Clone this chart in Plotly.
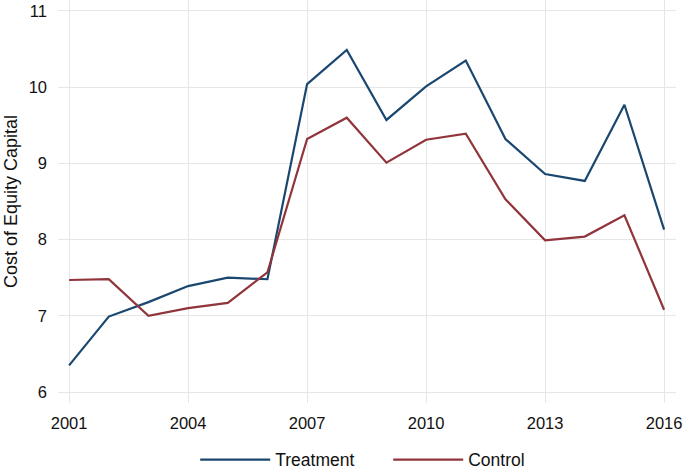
import plotly.graph_objects as go

years = list(range(2001, 2017))
treatment = [6.35, 6.99, 7.18, 7.39, 7.50, 7.48, 10.04, 10.49, 9.57, 10.01, 10.35, 9.32, 8.86, 8.77, 9.77, 8.13]
control = [7.47, 7.48, 7.00, 7.10, 7.17, 7.57, 9.32, 9.60, 9.01, 9.31, 9.39, 8.53, 7.99, 8.04, 8.32, 7.08]
x_ticks = [2001, 2004, 2007, 2010, 2013, 2016]
y_ticks = [6, 7, 8, 9, 10, 11]

fig = go.Figure()
fig.add_trace(go.Scatter(x=years, y=treatment, mode="lines", name="Treatment",
                         line=dict(color="#1a476f", width=2.2)))
fig.add_trace(go.Scatter(x=years, y=control, mode="lines", name="Control",
                         line=dict(color="#90353b", width=2.2)))

font = "Liberation Sans, Arial, Helvetica, sans-serif"
fig.update_layout(
    width=685, height=470,
    margin=dict(l=58, r=9, t=0, b=67, autoexpand=False),
    paper_bgcolor="white", plot_bgcolor="white",
    font=dict(family=font, size=16.5, color="#111111"),
    showlegend=True,
    legend=dict(orientation="h", x=0.222, xanchor="left", y=-0.096, yanchor="top",
                font=dict(size=17.5), itemwidth=70,
                entrywidth=108, entrywidthmode="pixels"),
    xaxis=dict(range=[2000.72, 2016.3], tickvals=x_ticks, showgrid=True,
               gridcolor="#e6e6e6", gridwidth=1.3, zeroline=False, showline=False,
               ticks="", ticklabelstandoff=8, automargin=False,
               tickfont=dict(size=16.5)),
    yaxis=dict(range=[5.856, 11.144], tickvals=y_ticks, showgrid=True,
               gridcolor="#e6e6e6", gridwidth=1.3, zeroline=False, showline=False,
               ticks="", ticklabelstandoff=10, automargin=False,
               tickfont=dict(size=16.5),
               title=dict(text="Cost of Equity Capital", font=dict(size=18), standoff=6)),
)

fig.write_html("out.html", post_script="document.body.style.margin='0';",
               config={"displayModeBar": False})
